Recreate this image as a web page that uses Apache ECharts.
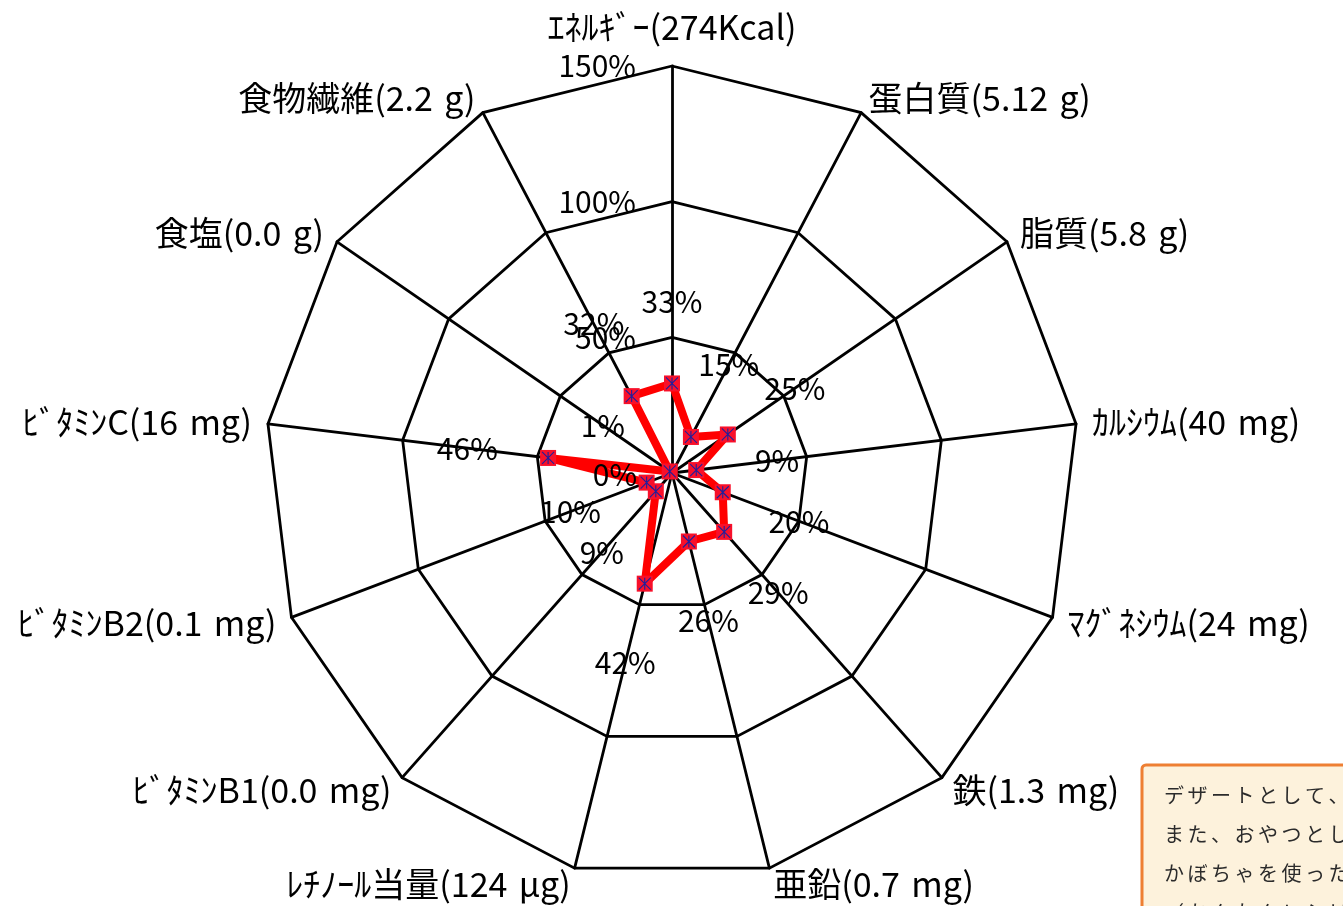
<!DOCTYPE html>
<html>
<head>
<meta charset="utf-8">
<script src="https://cdn.jsdelivr.net/npm/echarts@6/dist/echarts.min.js"></script>
<style>
  html, body { margin: 0; padding: 0; background: #ffffff; }
  #chart { width: 1343px; height: 906px; }
</style>
</head>
<body>
<div id="chart"></div>
<script>
// Nutrient axes, clockwise from the top (three-per-em spaces before the units)
const nutrients = [
  'ｴﾈﾙｷﾞｰ(274Kcal)',
  '蛋白質(5.12\u2004g)',
  '脂質(5.8\u2004g)',
  'ｶﾙｼｳﾑ(40\u2004mg)',
  'ﾏｸﾞﾈｼｳﾑ(24\u2004mg)',
  '鉄(1.3\u2004mg)',
  '亜鉛(0.7\u2004mg)',
  'ﾚﾁﾉｰﾙ当量(124\u2004μg)',
  'ﾋﾞﾀﾐﾝB1(0.0\u2004mg)',
  'ﾋﾞﾀﾐﾝB2(0.1\u2004mg)',
  'ﾋﾞﾀﾐﾝC(16\u2004mg)',
  '食塩(0.0\u2004g)',
  '食物繊維(2.2\u2004g)'
];

// Share of the daily reference intake, in percent
const percentages = [33, 15, 25, 9, 20, 29, 26, 42, 9, 10, 46, 1, 32];

// Ring values on the scale (0 is not labelled)
const ringTicks = [0, 50, 100, 150];

// Free-standing annotation near the centre
const centreNote = '0%';

// Memo box text
const noteLines = [
  'デザートとして、',
  'また、おやつとして',
  'かぼちゃを使った',
  '（かんたんレシピ）'
];

// Value labels sit this many percent further out than their point
const LABEL_LIFT = 30;

const FONT = "'Noto Sans CJK JP', 'Noto Sans', sans-serif";
const scaleMax = ringTicks[ringTicks.length - 1];
const ringStep = ringTicks[1] - ringTicks[0];

// ECharts lays radar axes out counter-clockwise; reorder so they run clockwise
const n = nutrients.length;
const order = nutrients.map((_, i) => (n - i) % n);
const orderedValues = order.map(i => percentages[i]);

const indicator = order.map((idx, k) => {
  const item = { name: nutrients[idx], min: 0, max: scaleMax };
  if (k === 0) {
    item.nameGap = 22;
    item.axisLabel = {
      show: true,
      showMinLabel: false,
      formatter: '{value}%',
      color: '#000',
      fontSize: 30,
      fontFamily: FONT,
      margin: 36
    };
  }
  return item;
});

// Build the memo box: rectangle plus evenly spaced characters
const noteGraphics = [{
  type: 'rect',
  shape: { x: 1142, y: 765, width: 260, height: 200, r: 4 },
  style: { fill: '#fdf2dc', stroke: '#ee7f33', lineWidth: 3 },
  z: 10
}];
noteLines.forEach((line, li) => {
  Array.from(line).forEach((ch, ci) => {
    noteGraphics.push({
      type: 'text',
      x: 1164 + ci * 23.5,
      y: 795 + li * 39,
      style: {
        text: ch,
        fill: '#2b2b2b',
        fontSize: 20,
        fontFamily: FONT,
        verticalAlign: 'middle',
        align: 'left'
      },
      z: 11
    });
  });
});

const chart = echarts.init(document.getElementById('chart'), null, { renderer: 'canvas' });

chart.setOption({
  backgroundColor: '#ffffff',
  animation: false,
  radar: {
    center: [672, 473],
    radius: 407,
    startAngle: 90,
    shape: 'polygon',
    splitNumber: (scaleMax - ringTicks[0]) / ringStep,
    indicator: indicator,
    nameGap: 16,
    axisName: {
      color: '#000',
      fontSize: 34,
      fontFamily: FONT
    },
    axisLine: { show: true, lineStyle: { color: '#000', width: 2.8 } },
    splitLine: { show: true, lineStyle: { color: '#000', width: 2.8 } },
    splitArea: { show: false },
    axisTick: { show: false },
    axisLabel: { show: false }
  },
  series: [
    {
      // thick red outline with square markers
      type: 'radar',
      z: 3,
      symbol: 'rect',
      symbolSize: 16,
      lineStyle: { color: '#ff0000', width: 8 },
      itemStyle: { color: '#f8102a' },
      label: { show: false },
      data: [{ value: orderedValues }]
    },
    {
      // navy asterisks drawn over the square markers
      type: 'radar',
      z: 4,
      symbol: 'path://M0,0L10,10M10,0L0,10M5,0L5,10',
      symbolSize: 12,
      lineStyle: { width: 0, opacity: 0 },
      itemStyle: { color: 'transparent', borderColor: '#1f1f9c', borderWidth: 1.1 },
      label: { show: false },
      data: [{ value: orderedValues }]
    },
    {
      // percentage labels, lifted outward along each axis
      type: 'radar',
      z: 5,
      symbol: 'circle',
      symbolSize: 2,
      lineStyle: { width: 0, opacity: 0 },
      itemStyle: { color: 'transparent', borderWidth: 0 },
      label: {
        show: true,
        position: 'inside',
        color: '#000',
        fontSize: 30,
        fontFamily: FONT,
        formatter: p => Math.round(p.value - LABEL_LIFT) + '%'
      },
      data: [{ value: orderedValues.map(v => v + LABEL_LIFT) }]
    }
  ],
  graphic: [
    {
      type: 'text',
      x: 615,
      y: 475,
      style: {
        text: centreNote,
        fill: '#000',
        fontSize: 30,
        fontFamily: FONT,
        align: 'center',
        verticalAlign: 'middle'
      },
      z: 6
    }
  ].concat(noteGraphics)
});
</script>
</body>
</html>
